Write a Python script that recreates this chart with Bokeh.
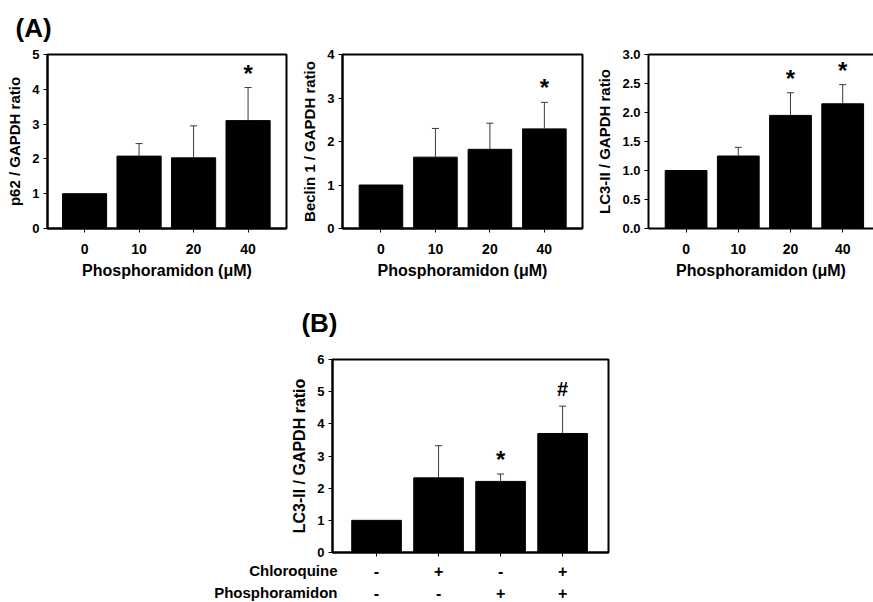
from bokeh.plotting import figure
from bokeh.layouts import column, row
from bokeh.models import (ColumnDataSource, Whisker, TeeHead, Range1d,
                          FixedTicker, LinearAxis, NumeralTickFormatter)
from bokeh.core.properties import value
from bokeh.embed import file_html
from bokeh.resources import INLINE

FONT = "Liberation Sans"

# ---------------- data ----------------
doses = ["0", "10", "20", "40"]

p62_mean = [1.00, 2.08, 2.03, 3.10]
p62_err = [0.00, 0.36, 0.92, 0.95]
p62_sig = ["", "", "", "*"]

beclin_mean = [1.00, 1.64, 1.82, 2.29]
beclin_err = [0.00, 0.66, 0.60, 0.61]
beclin_sig = ["", "", "", "*"]

lc3_mean = [1.00, 1.25, 1.95, 2.15]
lc3_err = [0.00, 0.15, 0.39, 0.33]
lc3_sig = ["", "", "*", "*"]

lc3b_mean = [1.00, 2.32, 2.21, 3.70]
lc3b_err = [0.00, 1.00, 0.23, 0.85]
lc3b_sig = ["", "", "*", "#"]
row_names = ["Chloroquine", "Phosphoramidon"]
chloroquine = ["-", "+", "-", "+"]
phosphoramidon = ["-", "-", "+", "+"]

p62_ticks = [0, 1, 2, 3, 4, 5]
beclin_ticks = [0, 1, 2, 3, 4]
lc3_ticks = [0.0, 0.5, 1.0, 1.5, 2.0, 2.5, 3.0]
lc3b_ticks = [0, 1, 2, 3, 4, 5, 6]

# marker styles: (font size, extra lift in px)
MARK_STYLE = {"*": ("24px", 1), "#": ("20px", 6)}


def panel(width, height, borders, xr, yticks, means, errs, sig, bar_w,
          ylabel, xlabel=None, xlabels=None, fmt=None, outline=True):
    left, right, top, bottom = borders
    p = figure(width=width, height=height, output_backend="svg",
               toolbar_location=None, x_range=Range1d(*xr),
               y_range=Range1d(yticks[0], yticks[-1]),
               min_border_left=left, min_border_right=right,
               min_border_top=top, min_border_bottom=bottom)
    p.grid.visible = False
    p.background_fill_color = "white"
    p.border_fill_color = "white"
    if outline:
        p.outline_line_color = "black"
        p.outline_line_width = 2
    else:
        p.outline_line_color = None
    n = len(means)
    xs = list(range(n))
    src = ColumnDataSource(dict(x=xs, top=means))
    p.vbar(x="x", top="top", width=bar_w, bottom=0, source=src,
           fill_color="black", line_color="black")
    ex = [x for x, e in zip(xs, errs) if e > 0]
    elo = [m for m, e in zip(means, errs) if e > 0]
    ehi = [m + e for m, e in zip(means, errs) if e > 0]
    esrc = ColumnDataSource(dict(x=ex, lo=elo, hi=ehi))
    w = Whisker(source=esrc, base="x", lower="lo", upper="hi",
                dimension="height", line_color="#3a3a3a", line_width=1,
                upper_head=TeeHead(size=7, line_color="#3a3a3a", line_width=1),
                lower_head=None, level="overlay")
    p.add_layout(w)
    for mark, (fs, lift) in MARK_STYLE.items():
        mx = [x for x, s in zip(xs, sig) if s == mark]
        my = [m + e for m, e, s in zip(means, errs, sig) if s == mark]
        if not mx:
            continue
        p.text(x=mx, y=my, text=[mark] * len(mx), text_align="center",
               text_baseline="bottom", text_font=value(FONT),
               text_font_style="bold", text_font_size=fs, y_offset=-lift,
               text_color="black")

    ya = p.yaxis[0]
    ya.ticker = FixedTicker(ticks=yticks)
    if fmt:
        ya.formatter = NumeralTickFormatter(format=fmt)
    ya.axis_label = ylabel
    xa = p.xaxis[0]
    xa.ticker = FixedTicker(ticks=xs)
    if xlabels is not None:
        xa.major_label_overrides = {i: s for i, s in enumerate(xlabels)}
    else:
        xa.major_label_overrides = {i: "" for i in xs}
    if xlabel:
        xa.axis_label = xlabel
    for ax in (xa, ya):
        ax.axis_line_width = 2
        ax.axis_line_color = "black"
        ax.major_tick_in = 0
        ax.major_tick_out = 4
        ax.major_tick_line_width = 1
        ax.minor_tick_line_color = None
        ax.major_label_text_font = FONT
        ax.major_label_text_font_style = "bold"
        ax.axis_label_text_font = FONT
        ax.axis_label_text_font_style = "bold"
        ax.axis_label_text_color = "black"
        ax.major_label_text_color = "black"
    ya.major_label_text_font_size = "13px"
    ya.axis_label_text_font_size = "15px"
    ya.major_label_standoff = 4
    ya.axis_label_standoff = 6
    xa.major_label_text_font_size = "14px"
    xa.axis_label_text_font_size = "16px"
    xa.major_label_standoff = 11
    xa.axis_label_standoff = 5
    return p


def text_strip(width, height, left, right, xr, rows, names, size):
    """A frameless strip whose frame lines up with the panel above it;
    names are written as left-axis labels (right aligned at the frame edge)."""
    s = figure(width=width, height=height, output_backend="svg",
               toolbar_location=None, x_range=Range1d(*xr),
               y_range=Range1d(height, 0),
               min_border_left=left, min_border_right=right,
               min_border_top=0, min_border_bottom=0)
    s.outline_line_color = None
    s.grid.visible = False
    s.xaxis.visible = False
    a = s.yaxis[0]
    a.ticker = FixedTicker(ticks=rows)
    a.major_label_overrides = {yy: nm for yy, nm in zip(rows, names)}
    a.axis_line_color = None
    a.major_tick_line_color = None
    a.minor_tick_line_color = None
    a.major_tick_out = 0
    a.major_tick_in = 0
    a.major_label_standoff = -5
    a.major_label_text_font = FONT
    a.major_label_text_font_style = "bold"
    a.major_label_text_font_size = size
    a.major_label_text_color = "black"
    return s


p1 = panel(295, 300, (47, 9, 53, 71), (-0.68, 3.705), p62_ticks,
           p62_mean, p62_err, p62_sig, 0.81, "p62 / GAPDH ratio",
           "Phosphoramidon (\u03bcM)", doses)
p1.title.text = "(A)"
p1.title.align = "left"
p1.title.vertical_align = "top"
p1.title.offset = -32
p1.title.standoff = 20
p1.title.text_font = FONT
p1.title.text_font_style = "bold"
p1.title.text_font_size = "26px"
p1.title.text_color = "black"

p2 = panel(295, 300, (47, 8, 54, 72), (-0.706, 3.70), beclin_ticks,
           beclin_mean, beclin_err, beclin_sig, 0.80,
           "Beclin 1 / GAPDH ratio", "Phosphoramidon (\u03bcM)", doses)

p3 = panel(283, 300, (58, 0, 54, 70), (-0.72, 3.59), lc3_ticks,
           lc3_mean, lc3_err, lc3_sig, 0.80, "LC3-II / GAPDH ratio",
           "Phosphoramidon (\u03bcM)", doses, fmt="0.0", outline=False)
top_ax = LinearAxis(ticker=FixedTicker(ticks=[]), axis_line_width=2,
                    axis_line_color="black",
                    major_tick_line_color=None, minor_tick_line_color=None)
p3.add_layout(top_ax, "above")

# bottom panel (B)
b_left, b_right, b_w = 332, 265, 873
b_xr = (-0.71, 3.74)

head_h = 40
ph = text_strip(b_w, head_h, b_left, b_right, b_xr, [22.5], ["(B)"], "26px")

p4 = panel(b_w, 220, (b_left, b_right, 19, 8), b_xr, lc3b_ticks,
           lc3b_mean, lc3b_err, lc3b_sig, 0.80, "LC3-II / GAPDH ratio")
p4.yaxis[0].axis_label_text_font_size = "16px"

# treatment table under panel (B)
strip_h = 42
row_y = [10, 32]
pt = text_strip(b_w, strip_h, b_left, b_right, b_xr, row_y, row_names, "15px")
xs = list(range(len(chloroquine)))
for yy, signs in zip(row_y, [chloroquine, phosphoramidon]):
    pt.text(x=xs, y=[yy] * len(xs), text=signs, text_font=value(FONT),
            text_font_style="bold", text_font_size="16px",
            text_baseline="middle", text_align="center", text_color="black")

layout = column(row(p1, p2, p3), ph, p4, pt)
open("out.html", "w").write(file_html(layout, INLINE))
